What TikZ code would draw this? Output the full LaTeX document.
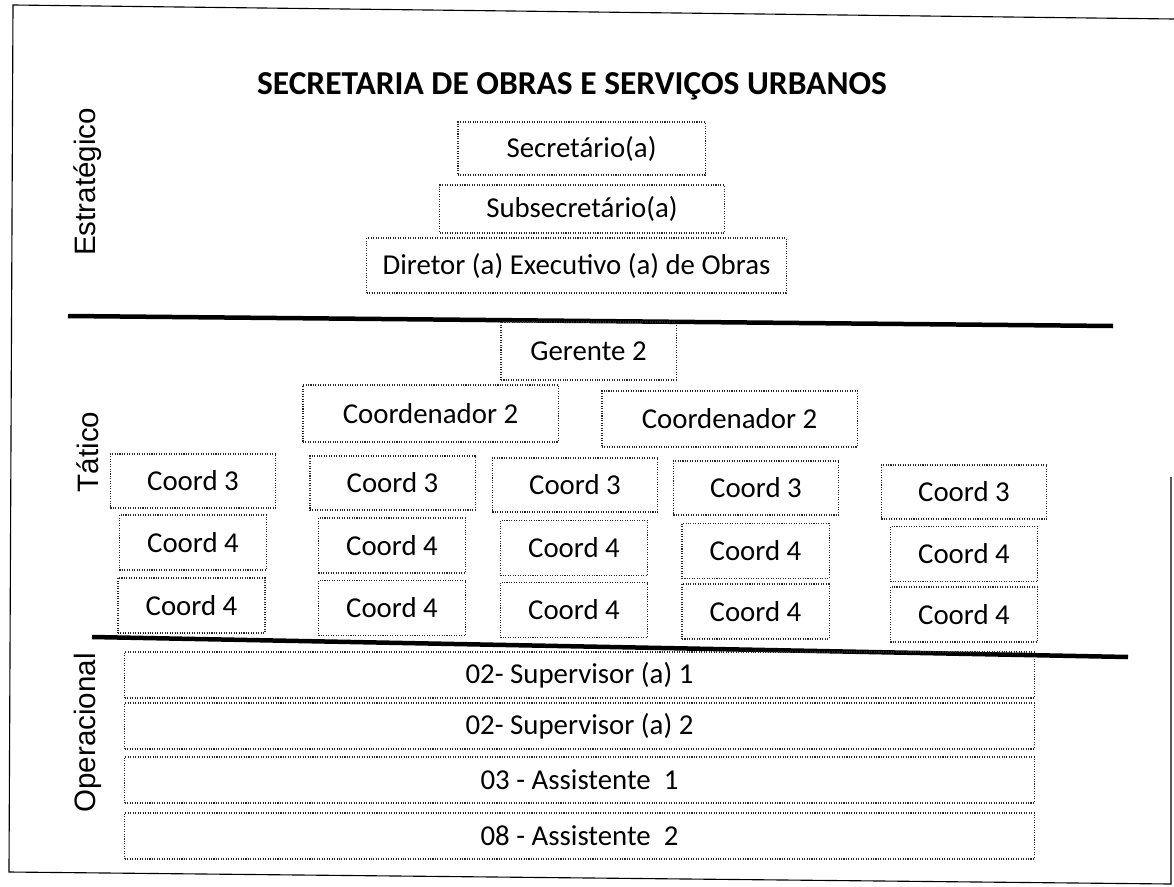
\documentclass[tikz,border=0pt]{standalone}
\usepackage{fontspec}
\setmainfont{Carlito}
\newfontfamily\nivelfont{Liberation Sans}
\tikzstyle{cargo}=[rectangle, draw=black!85, densely dotted, line width=0.75pt, inner sep=0pt, font=\fontsize{20.5}{24}\selectfont]
\tikzstyle{coordtres}=[cargo, minimum width=4.125cm, minimum height=1.35cm]
\tikzstyle{coordquatro}=[cargo, minimum width=3.675cm, minimum height=1.375cm]
\tikzstyle{operac}=[cargo, minimum width=22.725cm, minimum height=1.15cm]
\tikzstyle{nivel}=[rotate=90, font=\nivelfont\fontsize{21}{25}\selectfont]
\tikzstyle{divisa}=[line width=3.2pt]

\begin{document}
\begin{tikzpicture}[x=0.025cm, y=-0.025cm]
                    \useasboundingbox (0,0) rectangle (1174,886);
                    % moldura da folha
                    \draw[line width=0.8pt] (1171,477) -- (1171,884) -- (9,872) -- (13,5) -- (1174,19);
                    \node[font=\bfseries\fontsize{23.8}{28}\selectfont] (tit) at (572,86) {SECRETARIA DE OBRAS E SERVIÇOS URBANOS};
                    \node[nivel] (est) at (88,182) {Estratégico};
                    \node[nivel] (tat) at (88,452) {Tático};
                    \node[nivel] (ope) at (88,733) {Operacional};
                    % estrategico
                    \node[cargo, minimum width=6.175cm, minimum height=1.325cm] (sec) at (581.5,148.5) {Secretário(a)};
                    \node[cargo, minimum width=7.1cm, minimum height=1.2cm] (sub) at (582,209) {Subsecretário(a)};
                    \node[cargo, minimum width=10.475cm, minimum height=1.375cm] (dir) at (576.5,265.5) {Diretor (a) Executivo (a) de Obras};
                    \draw[divisa] (68,316) -- (1113,326);
                    % tatico
                    \node[cargo, minimum width=4.375cm, minimum height=1.45cm] (ger) at (588.5,351) {Gerente 2};
                    \node[cargo, minimum width=6.375cm, minimum height=1.425cm] (co1) at (430.5,413.5) {Coordenador 2};
                    \node[cargo, minimum width=6.375cm, minimum height=1.4cm] (co2) at (729.5,419) {Coordenador 2};
                    \node[coordtres] (c31) at (193,481)   {Coord 3};
                    \node[coordtres] (c32) at (392.5,483) {Coord 3};
                    \node[coordtres] (c33) at (575,485)   {Coord 3};
                    \node[coordtres] (c34) at (756,488)   {Coord 3};
                    \node[coordtres] (c35) at (964,492)   {Coord 3};
                    \node[coordquatro] (c41) at (193,542.5)   {Coord 4};
                    \node[coordquatro] (c42) at (392,545.5)   {Coord 4};
                    \node[coordquatro] (c43) at (574,548)     {Coord 4};
                    \node[coordquatro] (c44) at (755.5,551)   {Coord 4};
                    \node[coordquatro] (c45) at (964,554)     {Coord 4};
                    \node[coordquatro] (d41) at (191.5,605.5) {Coord 4};
                    \node[coordquatro] (d42) at (392,608)     {Coord 4};
                    \node[coordquatro] (d43) at (574,610)     {Coord 4};
                    \node[coordquatro] (d44) at (755.5,611.5) {Coord 4};
                    \node[coordquatro] (d45) at (964,614.5)   {Coord 4};
                    \draw[divisa] (92,637) -- (1128,657);
                    % operacional
                    \node[operac] (op1) at (579.5,675) {02- Supervisor (a) 1};
                    \node[operac] (op2) at (579.5,726) {02- Supervisor (a) 2};
                    \node[operac] (op3) at (579.5,780) {03 - Assistente\ \ 1};
                    \node[operac] (op4) at (579.5,836) {08 - Assistente\ \ 2};
                \end{tikzpicture}
\end{document}
